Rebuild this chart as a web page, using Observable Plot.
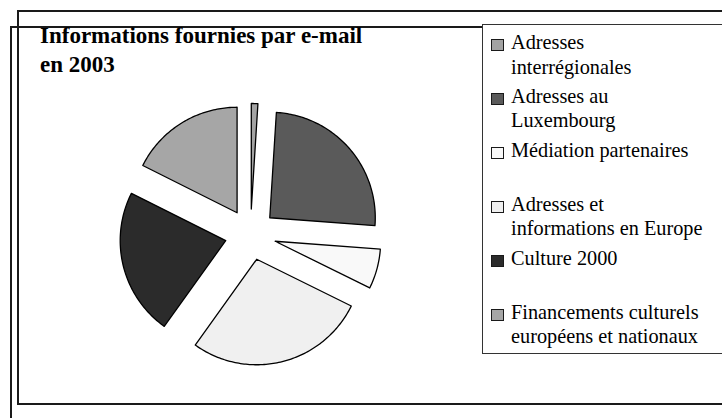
<!DOCTYPE html>
<html>
<head>
<meta charset="utf-8">
<script src="https://cdn.jsdelivr.net/npm/d3@7"></script>
<script src="https://cdn.jsdelivr.net/npm/@observablehq/plot@0.6"></script>
<style>
  html, body { margin: 0; padding: 0; background: #fff; overflow: hidden; }
  #page { position: relative; width: 722px; height: 418px; overflow: hidden; font-family: "Liberation Serif", "Times New Roman", serif; }
  .abs { position: absolute; box-sizing: border-box; }
  #outer { left: 17px; top: 10px; width: 740px; height: 395px; border: 2px solid #1a1a1a; }
  #inner { left: 10px; top: 26px; width: 473px; height: 420px; border-top: 2px solid #1a1a1a; border-left: 2px solid #1a1a1a; }
  #legend { left: 482px; top: 24px; width: 260px; height: 330px; border: 1px solid #333; background: #fff; }
  #title { left: 40px; top: 20.5px; font-weight: bold; font-size: 23px; line-height: 29.5px; color: #000; white-space: nowrap; }
  .entry { position: absolute; left: 0; font-size: 20.3px; line-height: 24.5px; color: #000; white-space: nowrap; }
  .entry .txt { position: absolute; left: 28px; top: 0; }
  .entry .sw { position: absolute; left: 8px; top: 9px; width: 13px; height: 12px; box-sizing: border-box; border: 1.5px solid #1a1a1a; }
  #pie { left: 120px; top: 104px; }
</style>
</head>
<body>
<div id="page">
  <div id="outer" class="abs"></div>
  <div id="inner" class="abs"></div>
  <div id="legend" class="abs"></div>
  <div id="title" class="abs"></div>
  <div id="pie" class="abs"></div>
</div>
<script>
// ---- data ----
const titleLines = ["Informations fournies par e-mail", "en 2003"];
const categories = [
  "Adresses interrégionales",
  "Adresses au Luxembourg",
  "Médiation partenaires",
  "Adresses et informations en Europe",
  "Culture 2000",
  "Financements culturels européens et nationaux"
];
const legendLines = [
  ["Adresses", "interrégionales"],
  ["Adresses au", "Luxembourg"],
  ["Médiation partenaires"],
  ["Adresses et", "informations en Europe"],
  ["Culture 2000"],
  ["Financements culturels", "européens et nationaux"]
];
const values = [1.0, 25.2, 6.1, 27.6, 22.5, 17.6];
const colors = ["#a3a3a3", "#5a5a5a", "#f9f9f9", "#f0f0f0", "#2b2b2b", "#a6a6a6"];

// ---- title ----
document.getElementById("title").innerHTML = titleLines.join("<br>");

// ---- legend ----
const legend = document.getElementById("legend");
categories.forEach((c, i) => {
  const e = document.createElement("div");
  e.className = "entry";
  e.style.top = (5 + 53.9 * i) + "px";
  const sw = document.createElement("div");
  sw.className = "sw";
  sw.style.background = colors[i];
  const t = document.createElement("div");
  t.className = "txt";
  t.innerHTML = legendLines[i].join("<br>");
  e.appendChild(sw);
  e.appendChild(t);
  legend.appendChild(e);
});

// ---- pie geometry (unit radius, exploded) ----
const explode = 0.242;
const R = 1.2322;
const arcs = d3.pie().sort(null).value(d => d)(values);
const pts = [];
arcs.forEach((a, i) => {
  const key = categories[i];
  const mid = (a.startAngle + a.endAngle) / 2;
  const ox = explode * Math.sin(mid), oy = explode * Math.cos(mid);
  pts.push({key, x: ox, y: oy});
  const n = Math.max(2, Math.ceil((a.endAngle - a.startAngle) / (Math.PI / 180)));
  for (let k = 0; k <= n; k++) {
    const t = a.startAngle + (a.endAngle - a.startAngle) * k / n;
    pts.push({key, x: ox + Math.sin(t), y: oy + Math.cos(t)});
  }
});

const chart = Plot.plot({
  width: 260,
  height: 260,
  margin: 0,
  style: {background: "transparent", overflow: "visible"},
  x: {domain: [-R, R], axis: null},
  y: {domain: [-R, R], axis: null},
  color: {domain: categories, range: colors},
  marks: [
    Plot.line(pts, {x: "x", y: "y", z: "key", fill: "key", stroke: "#000", strokeWidth: 1.3, curve: "linear-closed"})
  ]
});
document.getElementById("pie").appendChild(chart);
</script>
</body>
</html>
